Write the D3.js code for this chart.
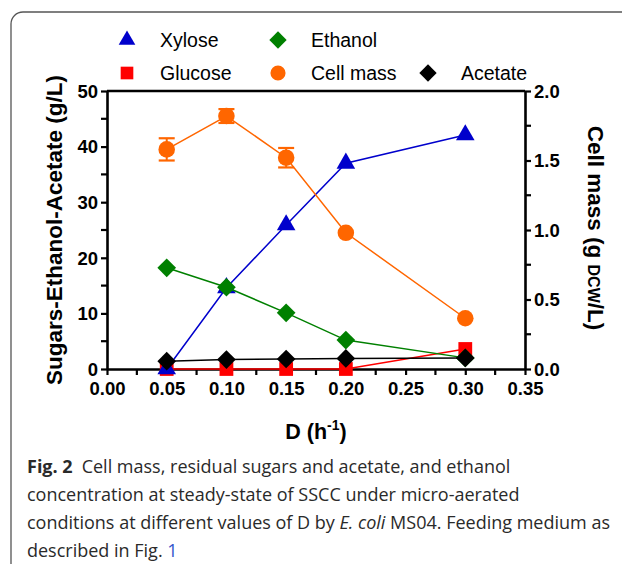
<!DOCTYPE html>
<html><head><meta charset="utf-8">
<script src="https://cdn.jsdelivr.net/npm/d3@7"></script>
<style>html,body{margin:0;padding:0;background:#fff;}svg{display:block;}
.af{font-family:"Liberation Sans",Arimo,Arial,Helvetica,sans-serif;}
.cf{font-family:"Open Sans","Noto Sans",sans-serif;}
</style>
</head><body>
<script>
const D = [0.05, 0.10, 0.15, 0.20, 0.30];
const xylose  = [0.0, 14.6, 25.9, 37.0, 42.1];
const glucose = [0.0, 0.0, 0.0, 0.0, 3.6];
const ethanol = [18.2, 14.7, 10.1, 5.2, 2.0];
const acetate = [1.4, 1.7, 1.8, 1.9, 2.0];
const cellMass = [1.58, 1.82, 1.52, 0.98, 0.365];
const cellMassErr = [0.08, 0.05, 0.07, 0, 0];
const xTicks = [0, 0.05, 0.10, 0.15, 0.20, 0.25, 0.30, 0.35];
const yLTicks = [0, 10, 20, 30, 40, 50];
const yRTicks = [0, 0.5, 1.0, 1.5, 2.0];

const W = 622, H = 564;
const svg = d3.select("body").append("svg").attr("width", W).attr("height", H);

// frame
svg.append("rect").attr("x", 11).attr("y", 12).attr("width", 700).attr("height", 700)
  .attr("rx", 12).attr("fill", "none").attr("stroke", "#555").attr("stroke-width", 1.3);

const x = d3.scaleLinear([0, 0.35], [107, 525]);
const yL = d3.scaleLinear([0, 50], [369, 91]);
const yR = d3.scaleLinear([0, 2], [369, 91]);

function styleAxis(g) {
  g.attr("font-family", null).attr("font-size", null).attr("class", "af");
  g.selectAll("path.domain").attr("stroke", "#000").attr("stroke-width", 2.6);
  g.selectAll(".tick line").attr("stroke", "#000").attr("stroke-width", 2.2);
  g.selectAll(".tick text").attr("class", "af").attr("font-weight", "bold")
    .attr("font-size", 18.5).attr("fill", "#000");
}

// top frame line
svg.append("line").attr("x1", x(0)).attr("x2", x(0.35)).attr("y1", yL(50)).attr("y2", yL(50))
  .attr("stroke", "#000").attr("stroke-width", 2.6);

// minor ticks
const gMinor = svg.append("g").attr("stroke", "#000").attr("stroke-width", 2.2);
d3.range(0.025, 0.35, 0.05).forEach(v => {
  gMinor.append("line").attr("x1", x(v)).attr("x2", x(v)).attr("y1", yL(0)).attr("y2", yL(0) + 6);
});
d3.range(5, 50, 10).forEach(v => {
  gMinor.append("line").attr("x1", x(0)).attr("x2", x(0) - 6).attr("y1", yL(v)).attr("y2", yL(v));
});
d3.range(0.25, 2, 0.5).forEach(v => {
  gMinor.append("line").attr("x1", x(0.35)).attr("x2", x(0.35) + 6).attr("y1", yR(v)).attr("y2", yR(v));
});

const gx = svg.append("g").attr("transform", `translate(0,${yL(0)})`)
  .call(d3.axisBottom(x).tickValues(xTicks).tickFormat(d3.format(".2f")).tickSize(6).tickSizeOuter(0).tickPadding(7));
styleAxis(gx);
const gl = svg.append("g").attr("transform", `translate(${x(0)},0)`)
  .call(d3.axisLeft(yL).tickValues(yLTicks).tickSize(6).tickSizeOuter(0).tickPadding(3));
styleAxis(gl);
gl.selectAll(".tick text").attr("dy", "0.34em");
const gr = svg.append("g").attr("transform", `translate(${x(0.35)},0)`)
  .call(d3.axisRight(yR).tickValues(yRTicks).tickFormat(d3.format(".1f")).tickSize(6).tickSizeOuter(0).tickPadding(3));
styleAxis(gr);
gr.selectAll(".tick text").attr("dy", "0.34em");

// axis titles
const xt = svg.append("text").attr("class", "af").attr("x", 316).attr("y", 439).attr("text-anchor", "middle")
  .attr("font-weight", "bold").attr("font-size", 21.5);
xt.append("tspan").text("D (h");
xt.append("tspan").attr("font-size", 14).attr("dy", -9).text("-1");
xt.append("tspan").attr("dy", 9).text(")");

svg.append("text").attr("class", "af").attr("transform", "translate(62,230) rotate(-90)").attr("text-anchor", "middle")
  .attr("font-weight", "bold").attr("font-size", 22.5)
  .text("Sugars-Ethanol-Acetate (g/L)");

const rt = svg.append("text").attr("class", "af").attr("transform", "translate(588,228) rotate(90)").attr("text-anchor", "middle")
  .attr("font-weight", "bold").attr("font-size", 22.5);
rt.append("tspan").text("Cell mass (g ");
rt.append("tspan").attr("font-size", 16).text("DCW");
rt.append("tspan").text("/L)");

// symbols
const diamond = {draw(ctx, size) { const r = Math.sqrt(size / 2); ctx.moveTo(0, -r); ctx.lineTo(r, 0); ctx.lineTo(0, r); ctx.lineTo(-r, 0); ctx.closePath(); }};

const series = [
  {name: "Glucose", vals: glucose, color: "#ff0000", sym: d3.symbolSquare, size: 190, scale: yL},
  {name: "Xylose", vals: xylose, color: "#0000cc", sym: d3.symbolTriangle, size: 150, scale: yL},
  {name: "Ethanol", vals: ethanol, color: "#008000", sym: diamond, size: 175, scale: yL},
  {name: "Cell mass", vals: cellMass, color: "#ff6600", sym: d3.symbolCircle, size: 215, scale: yR},
  {name: "Acetate", vals: acetate, color: "#000000", sym: diamond, size: 175, scale: yL},
];

series.forEach(s => {
  const g = svg.append("g");
  const pts = D.map((d, i) => [x(d), s.scale(s.vals[i])]);
  g.append("path").attr("d", d3.line()(pts)).attr("fill", "none").attr("stroke", s.color).attr("stroke-width", 1.5);
  if (s.name === "Cell mass") {
    D.forEach((d, i) => {
      const e = cellMassErr[i];
      if (!e) return;
      const x0 = x(d), y1 = yR(s.vals[i] + e), y2 = yR(s.vals[i] - e);
      g.append("line").attr("x1", x0).attr("x2", x0).attr("y1", y1).attr("y2", y2).attr("stroke", s.color).attr("stroke-width", 2);
      [y1, y2].forEach(yy => g.append("line").attr("x1", x0 - 8).attr("x2", x0 + 8).attr("y1", yy).attr("y2", yy)
        .attr("stroke", s.color).attr("stroke-width", 2.2));
    });
  }
  g.selectAll("path.m").data(pts).join("path").attr("class", "m")
    .attr("transform", p => `translate(${p[0]},${p[1]})`)
    .attr("d", d3.symbol().type(s.sym).size(s.size)).attr("fill", s.color);
});

// legend
const legend = [
  {name: "Xylose", color: "#0000cc", sym: d3.symbolTriangle, size: 120, lx: 127, ly: 40},
  {name: "Ethanol", color: "#008000", sym: diamond, size: 150, lx: 278, ly: 40},
  {name: "Glucose", color: "#ff0000", sym: d3.symbolSquare, size: 160, lx: 127, ly: 73},
  {name: "Cell mass", color: "#ff6600", sym: d3.symbolCircle, size: 180, lx: 278, ly: 73},
  {name: "Acetate", color: "#000000", sym: diamond, size: 150, lx: 428, ly: 73},
];
legend.forEach(l => {
  svg.append("path").attr("transform", `translate(${l.lx},${l.ly})`)
    .attr("d", d3.symbol().type(l.sym).size(l.size)).attr("fill", l.color);
  svg.append("text").attr("class", "af").attr("x", l.lx + 33).attr("y", l.ly + 7)
    .attr("font-size", 19.5).attr("fill", "#000").text(l.name);
});

// caption
const cap = svg.append("g").attr("class", "cf").attr("font-size", 18).attr("fill", "#2a2a2a");
const l1 = cap.append("text").attr("x", 27).attr("y", 473);
l1.append("tspan").attr("font-weight", "bold").text("Fig. 2");
l1.append("tspan").text("\u2002Cell mass, residual sugars and acetate, and ethanol");
cap.append("text").attr("x", 27).attr("y", 501).text("concentration at steady-state of SSCC under micro-aerated");
const l3 = cap.append("text").attr("x", 27).attr("y", 529);
l3.append("tspan").text("conditions at different values of D by ");
l3.append("tspan").attr("font-style", "italic").text("E. coli");
l3.append("tspan").text(" MS04. Feeding medium as");
const l4 = cap.append("text").attr("x", 27).attr("y", 557);
l4.append("tspan").text("described in Fig. ");
l4.append("tspan").attr("fill", "#3355cc").text("1");
</script>
</body></html>
